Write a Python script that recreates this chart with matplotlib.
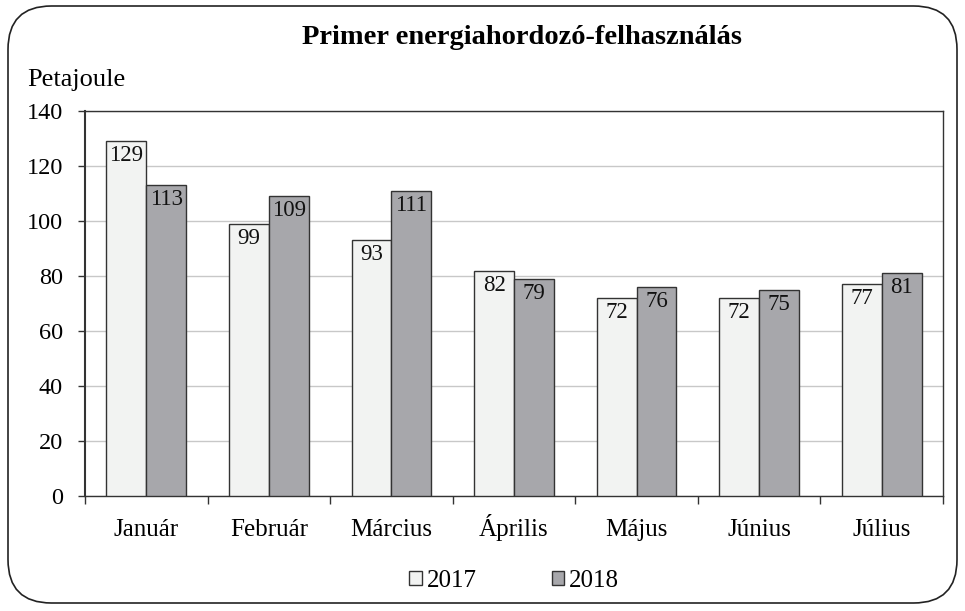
import matplotlib
matplotlib.use("Agg")
import matplotlib.pyplot as plt
import numpy as np
from matplotlib.patches import FancyBboxPatch, Patch

categories = ["Január", "Február", "Március", "Április", "Május", "Június", "Július"]
values_2017 = [129, 99, 93, 82, 72, 72, 77]
values_2018 = [113, 109, 111, 79, 76, 75, 81]
series_names = ["2017", "2018"]
yticks = [0, 20, 40, 60, 80, 100, 120, 140]

plt.rcParams['font.family'] = ['Liberation Serif', 'DejaVu Serif']

fig = plt.figure(figsize=(9.65, 6.11), dpi=100)
ax = fig.add_axes([85/965, 1-496/611, (943-85)/965, (496-111)/611])

c17 = "#f2f3f2"
c18 = "#a7a7ab"
edge = "#333333"
x = np.arange(len(categories))
w = 0.325
b1 = ax.bar(x - w/2, values_2017, w, color=c17, edgecolor=edge, linewidth=1, zorder=3)
b2 = ax.bar(x + w/2, values_2018, w, color=c18, edgecolor=edge, linewidth=1, zorder=3)

for bars, vals in ((b1, values_2017), (b2, values_2018)):
    for r, v in zip(bars, vals):
        ax.annotate(f"{v}", (r.get_x() + r.get_width()/2, v), xytext=(0, -3),
                    textcoords="offset points", ha="center", va="top",
                    fontsize=16.5, color="#111111", zorder=4)

ax.set_xlim(-0.5, len(categories) - 0.5)
ax.set_ylim(0, 140)
ax.set_yticks(yticks)
ax.set_yticklabels([str(t) for t in yticks], fontsize=17.5)
ax.yaxis.grid(True, color="#c8c8c8", linewidth=1, zorder=0)
ax.set_axisbelow(True)
ax.tick_params(axis="y", length=5, width=1, color="#333333", pad=11)

ax.set_xticks(x)
ax.set_xticklabels(categories, fontsize=18)
for lab in ax.get_xticklabels():
    lab.set_verticalalignment("baseline")
ax.set_xticks(np.arange(-0.5, len(categories), 1), minor=True)
ax.tick_params(axis="x", which="major", length=0, pad=29)
ax.tick_params(axis="x", which="minor", length=6, width=1, color="#333333")

for s in ax.spines.values():
    s.set_color("#333333")
    s.set_linewidth(1)
ax.spines["left"].set_linewidth(1.5)

fig.text(522/965, 1-38/611, "Primer energiahordozó-felhasználás", ha="center", va="center",
         fontsize=20.5, fontweight="bold")
fig.text(27/965, 1-80/611, "Petajoule", ha="left", va="center", fontsize=19)

handles = [Patch(facecolor=c17, edgecolor=edge, linewidth=1),
           Patch(facecolor=c18, edgecolor=edge, linewidth=1)]
fig.legend(handles, series_names, loc="center", bbox_to_anchor=(514/965, 1-581/611),
           ncol=2, frameon=False, fontsize=18, handlelength=0.5, handleheight=0.5,
           handletextpad=0.2, columnspacing=3.0)

frame = FancyBboxPatch((8/965, 8/611), (957-8)/965, (605-8)/611,
                       boxstyle="round,pad=0,rounding_size=0.045",
                       transform=fig.transFigure, facecolor="none",
                       edgecolor="#222222", linewidth=1.2, mutation_aspect=965/611)
fig.patches.append(frame)

fig.savefig("out.png", dpi=100)
